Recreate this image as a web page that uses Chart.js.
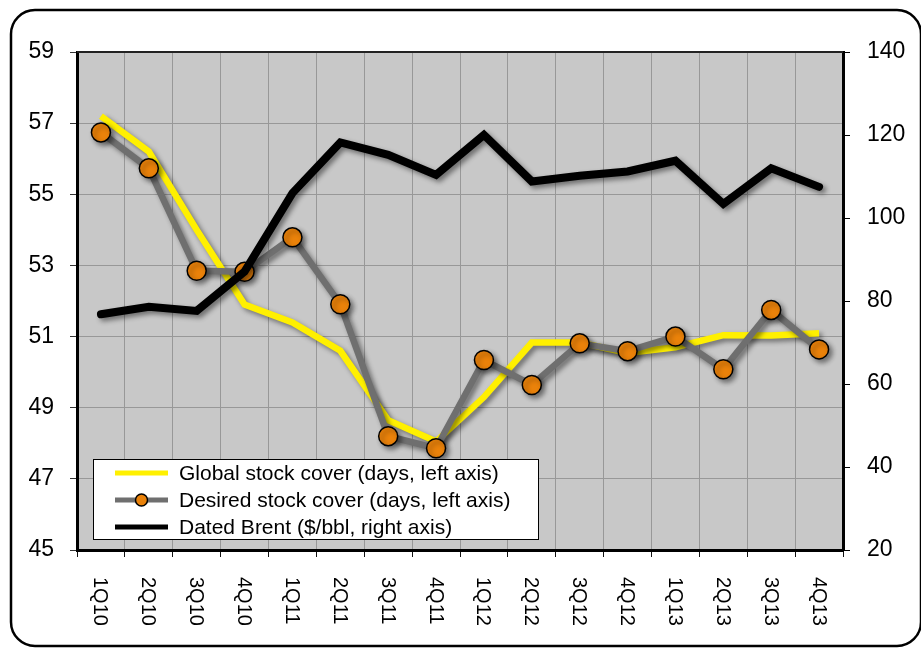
<!DOCTYPE html>
<html>
<head>
<meta charset="utf-8">
<script src="https://cdn.jsdelivr.net/npm/chart.js@4.4.1/dist/chart.umd.min.js"></script>
<style>
  html, body { margin: 0; padding: 0; background: #fff; }
  #wrap { position: relative; width: 921px; height: 649px; }
  canvas { display: block; }
</style>
</head>
<body>
<div id="wrap"><canvas id="c" width="921" height="649"></canvas></div>
<script>
// Quarterly categories
const categories = ['1Q10','2Q10','3Q10','4Q10','1Q11','2Q11','3Q11','4Q11',
                    '1Q12','2Q12','3Q12','4Q12','1Q13','2Q13','3Q13','4Q13'];

// Global stock cover, days (left axis)
const globalCover = [57.2, 56.2, 54.0, 51.9, 51.4, 50.6, 48.65, 48.05,
                     49.3, 50.83, 50.83, 50.54, 50.7, 51.04, 51.03, 51.09];

// Desired stock cover, days (left axis)
const desiredCover = [56.74, 55.73, 52.85, 52.82, 53.79, 51.91, 48.2, 47.86,
                      50.34, 49.64, 50.81, 50.59, 51.0, 50.08, 51.75, 50.64];

// Dated Brent, $/bbl (right axis)
const datedBrent = [76.8, 78.6, 77.6, 87.1, 106.0, 118.2, 115.2, 110.4,
                    120.0, 108.8, 110.2, 111.2, 113.8, 103.4, 112.0, 107.5];

// Axis ranges
const leftAxis = { min: 45, max: 59, step: 2 };
const rightAxis = { min: 20, max: 140, step: 20 };

const seriesLabels = [
  'Global stock cover (days, left axis)',
  'Desired stock cover (days, left axis)',
  'Dated Brent ($/bbl, right axis)'
];

const FONT = '"Liberation Sans", Arial, sans-serif';

// Outer frame + plot background
const backdrop = {
  id: 'backdrop',
  beforeDraw(chart) {
    const { ctx, chartArea: a } = chart;
    ctx.save();
    ctx.lineWidth = 2.5;
    ctx.strokeStyle = '#000';
    ctx.beginPath();
    ctx.roundRect(11, 10, 910, 636, 24);
    ctx.stroke();
    ctx.fillStyle = '#C8C8C8';
    ctx.fillRect(a.left, a.top, a.right - a.left, a.bottom - a.top);
    ctx.restore();
  },
  afterDraw(chart) {
    const { ctx, chartArea: a } = chart;
    ctx.save();
    ctx.strokeStyle = '#222';
    ctx.lineWidth = 2;
    ctx.beginPath();
    ctx.moveTo(a.left, a.top);
    ctx.lineTo(a.right, a.top);
    ctx.stroke();
    ctx.restore();
  }
};

// Soft drop shadow under the series
const shadow = {
  id: 'shadow',
  beforeDatasetsDraw(chart) {
    const ctx = chart.ctx;
    ctx.save();
    ctx.shadowColor = 'rgba(0,0,0,0.45)';
    ctx.shadowBlur = 5;
    ctx.shadowOffsetX = 3;
    ctx.shadowOffsetY = 3;
  },
  afterDatasetsDraw(chart) {
    chart.ctx.restore();
  }
};

// Category labels reading top-to-bottom
const xLabels = {
  id: 'xLabels',
  afterDraw(chart) {
    const { ctx } = chart;
    const xs = chart.scales.x;
    ctx.save();
    ctx.fillStyle = '#000';
    ctx.font = '20px ' + FONT;
    ctx.textAlign = 'left';
    ctx.textBaseline = 'middle';
    chart.data.labels.forEach((lab, i) => {
      const x = xs.getPixelForValue(i) - 1;
      ctx.save();
      ctx.translate(x, chart.chartArea.bottom + 27);
      ctx.rotate(Math.PI / 2);
      ctx.fillText(lab, 0, 0);
      ctx.restore();
    });
    ctx.restore();
  }
};

// Legend box inside the plot
const boxLegend = {
  id: 'boxLegend',
  afterDraw(chart) {
    const { ctx, chartArea: a } = chart;
    const bx = a.left + 16, by = a.bottom - 91, bw = 445, bh = 80;
    ctx.save();
    ctx.fillStyle = '#fff';
    ctx.fillRect(bx, by, bw, bh);
    ctx.strokeStyle = '#000';
    ctx.lineWidth = 1;
    ctx.strokeRect(bx + 0.5, by + 0.5, bw, bh);
    ctx.font = '21px ' + FONT;
    ctx.textBaseline = 'middle';
    ctx.textAlign = 'left';
    chart.data.datasets.forEach((ds, i) => {
      const y = by + 14 + i * 27;
      ctx.strokeStyle = ds.borderColor;
      ctx.lineWidth = 5;
      ctx.lineCap = 'butt';
      ctx.beginPath();
      ctx.moveTo(bx + 22, y);
      ctx.lineTo(bx + 75, y);
      ctx.stroke();
      if (ds.pointRadius > 0) {
        ctx.beginPath();
        ctx.arc(bx + 48.5, y, 6, 0, Math.PI * 2);
        ctx.fillStyle = ds.pointBackgroundColor;
        ctx.fill();
        ctx.lineWidth = 1.5;
        ctx.strokeStyle = '#000';
        ctx.stroke();
      }
      ctx.fillStyle = '#000';
      ctx.fillText(ds.label, bx + 86, y + 1);
    });
    ctx.restore();
  }
};

new Chart(document.getElementById('c'), {
  type: 'line',
  data: {
    labels: categories,
    datasets: [
      {
        label: seriesLabels[0],
        data: globalCover,
        yAxisID: 'y',
        borderColor: '#FFF000',
        borderWidth: 6.5,
        pointRadius: 0,
        tension: 0,
        order: 2
      },
      {
        label: seriesLabels[1],
        data: desiredCover,
        yAxisID: 'y',
        borderColor: '#6F6F6F',
        borderWidth: 6.5,
        pointRadius: 9.5,
        pointBackgroundColor: '#EA820A',
        pointBorderColor: '#000',
        pointBorderWidth: 1.5,
        tension: 0,
        order: 1
      },
      {
        label: seriesLabels[2],
        data: datedBrent,
        yAxisID: 'y1',
        borderColor: '#000',
        borderWidth: 8,
        borderCapStyle: 'round',
        pointRadius: 0,
        tension: 0,
        order: 0
      }
    ]
  },
  options: {
    responsive: false,
    animation: false,
    devicePixelRatio: 1,
    layout: { padding: { top: 52, left: 0, right: 0, bottom: 0 } },
    plugins: { legend: { display: false }, tooltip: { enabled: false } },
    scales: {
      x: {
        type: 'category',
        offset: true,
        grid: { offset: true, color: '#989898', lineWidth: 1, tickLength: 7, tickColor: '#111', drawTicks: true },
        border: { color: '#000', width: 3 },
        ticks: { display: false },
        afterFit(s) { s.height = 99; }
      },
      y: {
        position: 'left',
        min: leftAxis.min,
        max: leftAxis.max,
        ticks: { stepSize: leftAxis.step, color: '#000', font: { size: 23, family: FONT }, padding: 16 },
        grid: { color: '#989898', lineWidth: 1, tickLength: 7, tickColor: '#333' },
        border: { color: '#000', width: 3 },
        afterFit(s) { s.width = 77; }
      },
      y1: {
        position: 'right',
        min: rightAxis.min,
        max: rightAxis.max,
        ticks: { stepSize: rightAxis.step, color: '#000', font: { size: 23, family: FONT }, padding: 17 },
        grid: { drawOnChartArea: false, tickLength: 7, tickColor: '#000' },
        border: { color: '#000', width: 3 },
        afterFit(s) { s.width = 78; }
      }
    }
  },
  plugins: [backdrop, shadow, xLabels, boxLegend]
});
</script>
</body>
</html>
